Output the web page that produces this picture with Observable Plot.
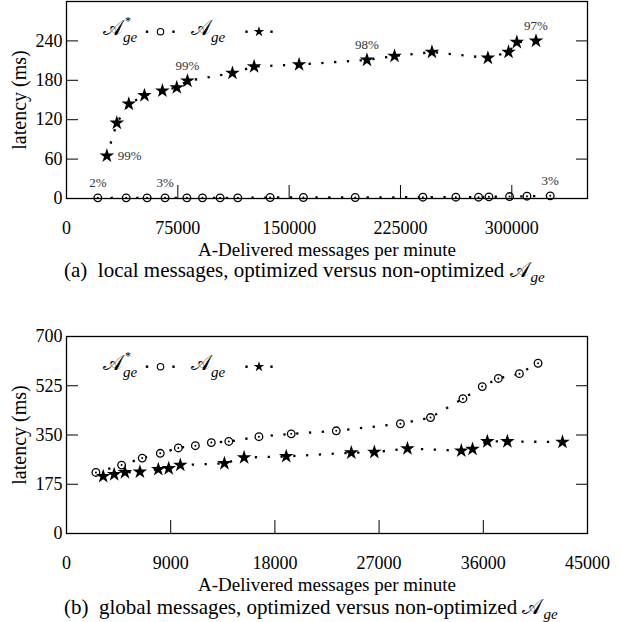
<!DOCTYPE html>
<html><head><meta charset="utf-8">
<script src="https://cdn.jsdelivr.net/npm/d3@7"></script>
<script src="https://cdn.jsdelivr.net/npm/@observablehq/plot@0.6"></script>
<style>
body{margin:0;background:#fff;}
#wrap{position:relative;width:621px;height:622px;font-family:"Liberation Serif","Times New Roman",serif;color:#000;overflow:hidden;}
.abs{position:absolute;white-space:nowrap;}
.cap{font-size:21px;line-height:1;}
.m{font-family:"DejaVu Serif","Noto Sans",serif;font-style:normal;}
.sub{font-style:italic;font-size:0.72em;position:relative;top:0.3em;margin-left:1px;}
</style></head><body><div id="wrap"></div>
<script>
// ---- Data: (a) local messages ----
const localOptX = [21100, 40200, 54300, 66400, 81100, 91600, 103500, 115400, 137200, 159600, 194500, 240100, 262300, 277600, 284600, 298500, 310200, 325900];
const localOptY = [1, 1, 1, 1, 1, 1, 1, 1, 1.5, 1.5, 1.5, 2, 2, 2, 2.5, 3, 3.5, 4];
const localX = [27200, 33900, 42000, 52500, 64600, 74300, 81500, 111800, 126400, 156700, 202400, 221000, 246200, 283900, 297800, 303400, 316300];
const localY = [65, 115, 144, 157, 164, 169, 179, 191, 201, 204, 211, 217, 223, 214, 223, 238, 240];
const localXTicks = [0, 75000, 150000, 225000, 300000];
const localYTicks = [0, 60, 120, 180, 240];
// annotations (percentages)
const localNoteAboveX = [21100, 66400, 81500, 202400, 316300, 325900];
const localNoteAboveY = [1, 1, 179, 211, 240, 4];
const localNoteAboveLabel = ["2%", "3%", "99%", "98%", "97%", "3%"];
const localNoteRightX = [27200];
const localNoteRightY = [65];
const localNoteRightLabel = ["99%"];

// ---- Data: (b) global messages ----
const globalOptX = [2540, 4760, 6540, 8100, 9660, 11130, 12510, 14020, 16620, 19410, 23300, 28840, 31440, 34240, 35910, 37300, 39120, 40730];
const globalOptY = [217, 243, 268, 285, 304, 312, 323, 327, 344, 354, 365, 390, 412, 479, 522, 551, 568, 605];
const globalX = [3170, 4120, 5050, 6340, 7930, 8830, 9830, 13640, 15340, 18980, 24600, 26590, 29450, 34100, 35070, 36350, 38080, 42840];
const globalY = [203, 210, 217, 219, 228, 231, 243, 249, 270, 274, 287, 289, 302, 294, 300, 327, 327, 325];
const globalXTicks = [0, 9000, 18000, 27000, 36000, 45000];
const globalYTicks = [0, 175, 350, 525, 700];

const xLabel = "A-Delivered messages per minute";
const yLabel = "latency (ms)";
const captionA = "(a)\u2002local messages, optimized versus non-optimized ";
const captionB = "(b)\u2002global messages, optimized versus non-optimized ";
const scriptA = "\u{1D49C}";

const fmt = d => String(d);
const FONT = "'Liberation Serif', 'Times New Roman', serif";

function chart(o) {
  const opt = o.optX.map((x, i) => ({x, y: o.optY[i]}));
  const base = o.baseX.map((x, i) => ({x, y: o.baseY[i]}));
  const marks = [
    Plot.line(opt, {x: "x", y: "y", stroke: "#000", strokeWidth: 2.3, strokeDasharray: "2.3,10.5", strokeLinecap: "butt"}),
    Plot.line(base, {x: "x", y: "y", stroke: "#000", strokeWidth: 2.3, strokeDasharray: "2.3,10.5", strokeLinecap: "butt"}),
    Plot.dot(opt, {x: "x", y: "y", r: 3.8, stroke: "#000", strokeWidth: 1.3, fill: "#fff"}),
    Plot.dot(opt, {x: "x", y: "y", r: 1, fill: "#000"}),
    Plot.dot(base, {x: "x", y: "y", symbol: "star", r: 4.6, fill: "#000", stroke: "none"}),
    Plot.axisY({ticks: o.yTicks, tickSize: -12, tickPadding: 16, tickFormat: fmt, label: yLabel, labelAnchor: "center", labelArrow: "none", labelOffset: 55, fontSize: 18}),
    Plot.axisY({anchor: "right", ticks: o.yTicks, tickSize: -12, tickFormat: () => "", label: null}),
    Plot.axisX({ticks: o.xTicks, tickSize: -13, tickPadding: 36, tickFormat: fmt, label: xLabel, labelAnchor: "center", labelArrow: "none", labelOffset: 57, fontSize: 18}),
    Plot.frame({stroke: "#000", strokeWidth: 1.3})
  ];
  if (o.notesAbove) {
    const na = o.notesAbove.x.map((x, i) => ({x, y: o.notesAbove.y[i], t: o.notesAbove.t[i]}));
    const nr = o.notesRight.x.map((x, i) => ({x, y: o.notesRight.y[i], t: o.notesRight.t[i]}));
    marks.push(Plot.text(na, {x: "x", y: "y", text: "t", dy: -15, fontSize: 13, fill: "#333"}));
    marks.push(Plot.text(nr, {x: "x", y: "y", text: "t", dx: 11, textAnchor: "start", fontSize: 13, fill: "#333"}));
  }
  const svg = Plot.plot({
    width: 621, height: o.height,
    marginLeft: 66, marginRight: 34, marginTop: o.marginTop, marginBottom: 62,
    style: {fontFamily: FONT, fontSize: "18px", color: "#000", background: "transparent", overflow: "visible"},
    x: {domain: o.xDomain}, y: {domain: o.yDomain},
    marks
  });
  d3.select(svg).selectAll('g[aria-label="y-axis label"] text').attr("font-size", 20);
  d3.select(svg).selectAll('g[aria-label="x-axis label"] text').attr("font-size", 19);
  return svg;
}

const wrap = document.getElementById("wrap");

const svgA = chart({
  optX: localOptX, optY: localOptY, baseX: localX, baseY: localY,
  xDomain: [0, 351000], yDomain: [0, 300], xTicks: localXTicks, yTicks: localYTicks,
  height: 260, marginTop: 1,
  notesAbove: {x: localNoteAboveX, y: localNoteAboveY, t: localNoteAboveLabel},
  notesRight: {x: localNoteRightX, y: localNoteRightY, t: localNoteRightLabel}
});
svgA.style.position = "absolute"; svgA.style.left = "0px"; svgA.style.top = "0px";
wrap.appendChild(svgA);

const svgB = chart({
  optX: globalOptX, optY: globalOptY, baseX: globalX, baseY: globalY,
  xDomain: [0, 45000], yDomain: [0, 700], xTicks: globalXTicks, yTicks: globalYTicks,
  height: 275, marginTop: 16
});
svgB.style.position = "absolute"; svgB.style.left = "0px"; svgB.style.top = "320px";
wrap.appendChild(svgB);

// ---- legends (inside each frame, top-left) ----
function addLegend(offsetY) {
  const svg = d3.create("svg").attr("width", 621).attr("height", 60)
    .style("position", "absolute").style("left", "0px").style("top", offsetY + "px").style("overflow", "visible");
  const g = svg.append("g").attr("font-family", FONT);
  const A = (x, star) => {
    g.append("text").attr("x", x).attr("y", 35).attr("font-size", 21)
      .attr("font-family", "'DejaVu Serif', 'Noto Sans', serif").text(scriptA);
    if (star) g.append("text").attr("x", x + 22).attr("y", 25).attr("font-size", 12).text("*");
    g.append("text").attr("x", x + 20).attr("y", 42).attr("font-size", 15).attr("font-style", "italic").text("ge");
  };
  const dot = x => g.append("rect").attr("x", x - 1.2).attr("y", 30.5).attr("width", 2.4).attr("height", 2.4).attr("fill", "#000");
  A(103, true);
  dot(147); dot(173.5);
  g.append("circle").attr("cx", 160.5).attr("cy", 31.7).attr("r", 3.2).attr("fill", "none").attr("stroke", "#000").attr("stroke-width", 1.1);
  A(191, false);
  dot(246.5); dot(271.5);
  g.append("path").attr("d", d3.symbol(d3.symbolStar, Math.PI * 3.3 * 3.3)()).attr("transform", "translate(259,31.7)").attr("fill", "#000");
  wrap.appendChild(svg.node());
}
addLegend(0);
addLegend(334.5);

// ---- captions ----
function addCaption(text, top) {
  const d = document.createElement("div");
  d.className = "abs cap";
  d.style.left = "64px"; d.style.top = top + "px";
  d.innerHTML = text + `<span class="m">${scriptA}</span><span class="sub">ge</span>`;
  wrap.appendChild(d);
}
addCaption(captionA, 260);
addCaption(captionB, 597);
</script></body></html>
